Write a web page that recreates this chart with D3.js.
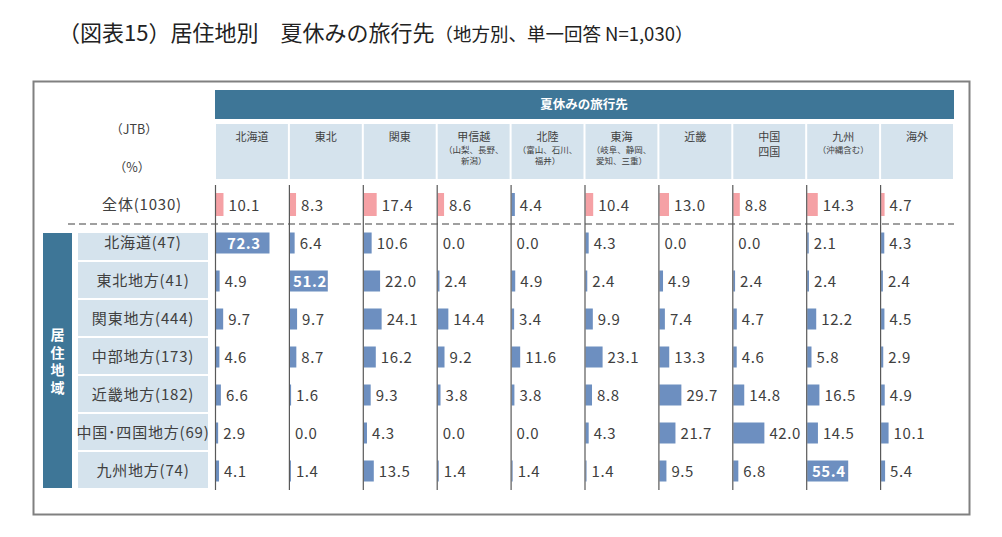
<!DOCTYPE html>
<html>
<head>
<meta charset="utf-8">
<script src="https://cdn.jsdelivr.net/npm/d3@7"></script>
<style>
  body { margin: 0; background: #fff; }
  svg { display: block; font-family: "Noto Sans CJK JP", sans-serif; }
</style>
</head>
<body>
<div id="chart"></div>
<script>
// destination columns (header lines + small notes)
const destinations = [["北海道"], ["東北"], ["関東"], ["甲信越"], ["北陸"], ["東海"], ["近畿"], ["中国", "四国"], ["九州"], ["海外"]];
const destNotes = [[], [], [], ["（山梨、長野、", "新潟）"], ["（富山、石川、", "福井）"], ["（岐阜、静岡、", "愛知、三重）"], [], [], ["（沖縄含む）"], []];

const totalLabel = "全体(1030)";
const totalValues = [10.1, 8.3, 17.4, 8.6, 4.4, 10.4, 13.0, 8.8, 14.3, 4.7];
const totalGroup = ["pink", "pink", "pink", "pink", "blue", "pink", "pink", "pink", "pink", "pink"];

const regions = ["北海道", "東北地方", "関東地方", "中部地方", "近畿地方", "中国･四国地方", "九州地方"];
const regionN = [47, 41, 444, 173, 182, 69, 74];
const regionValues = [
    [72.3, 6.4, 10.6, 0.0, 0.0, 4.3, 0.0, 0.0, 2.1, 4.3],
    [4.9, 51.2, 22.0, 2.4, 4.9, 2.4, 4.9, 2.4, 2.4, 2.4],
    [9.7, 9.7, 24.1, 14.4, 3.4, 9.9, 7.4, 4.7, 12.2, 4.5],
    [4.6, 8.7, 16.2, 9.2, 11.6, 23.1, 13.3, 4.6, 5.8, 2.9],
    [6.6, 1.6, 9.3, 3.8, 3.8, 8.8, 29.7, 14.8, 16.5, 4.9],
    [2.9, 0.0, 4.3, 0.0, 0.0, 4.3, 21.7, 42.0, 14.5, 10.1],
    [4.1, 1.4, 13.5, 1.4, 1.4, 1.4, 9.5, 6.8, 55.4, 5.4]
];

const W = 1002, H = 537;
const dark = "#3e7697", light = "#d5e3ed", textCol = "#404040";
const barColor = d3.scaleOrdinal().domain(["blue", "pink"]).range(["#6d8fc0", "#f5a1a5"]);

const svg = d3.select("#chart").append("svg").attr("width", W).attr("height", H);

// title
const title = svg.append("text").attr("x", 58).attr("y", 41).attr("fill", "#222");
title.append("tspan").attr("font-size", 22).text("（図表15）居住地別　夏休みの旅行先");
title.append("tspan").attr("font-size", 18.5).text("（地方別、単一回答 N=1,030）");

// frame
svg.append("rect")
    .attr("x", 33.5).attr("y", 81.5).attr("width", 936).attr("height", 433)
    .attr("fill", "none").attr("stroke", "#808080").attr("stroke-width", 2);

const x = d3.scaleBand().domain(d3.range(destinations.length)).range([215, 954]);
const bar = d3.scaleLinear().domain([0, 100]).range([0, 74]);
const y = d3.scaleBand().domain(d3.range(regions.length)).range([223, 489]);

// header band
svg.append("rect").attr("x", 215).attr("y", 90).attr("width", 739).attr("height", 29).attr("fill", dark);
svg.append("text").attr("x", 584).attr("y", 105).attr("dy", "0.35em")
    .attr("text-anchor", "middle").attr("fill", "#fff").attr("font-size", 12.5).attr("font-weight", "bold")
    .text("夏休みの旅行先");

const head = svg.append("g").selectAll("g").data(destinations).join("g")
    .attr("transform", (d, i) => `translate(${x(i)},0)`);
head.append("rect").attr("x", 1).attr("y", 124).attr("width", x.bandwidth() - 2).attr("height", 55).attr("fill", light);
head.each(function (d, i) {
    const g = d3.select(this);
    d.forEach((line, j) => g.append("text")
        .attr("x", x.bandwidth() / 2).attr("y", 137 + j * 15).attr("dy", "0.35em")
        .attr("text-anchor", "middle").attr("font-size", 11).attr("fill", textCol).text(line));
    destNotes[i].forEach((line, j) => g.append("text")
        .attr("x", x.bandwidth() / 2).attr("y", 150 + j * 11).attr("dy", "0.35em")
        .attr("text-anchor", "middle").attr("font-size", 8.5).attr("fill", textCol).text(line));
});

// top-left labels
svg.append("text").attr("x", 134).attr("y", 130).attr("dy", "0.35em").attr("text-anchor", "middle")
    .attr("font-size", 12.5).attr("fill", textCol).text("（JTB）");
svg.append("text").attr("x", 132).attr("y", 168).attr("dy", "0.35em").attr("text-anchor", "middle")
    .attr("font-size", 12.5).attr("fill", textCol).text("（%）");

// row labels
svg.append("text").attr("x", 142).attr("y", 205).attr("dy", "0.35em").attr("text-anchor", "middle")
    .attr("font-size", 15).attr("letter-spacing", 0.8).attr("fill", textCol).text(totalLabel);

svg.append("rect").attr("x", 43).attr("y", 233).attr("width", 29).attr("height", 255).attr("fill", dark);
svg.append("text")
    .attr("x", 57.5).attr("y", 363).attr("writing-mode", "vertical-rl").attr("text-anchor", "middle")
    .attr("font-size", 14).attr("letter-spacing", 3.5).attr("font-weight", "bold").attr("fill", "#fff")
    .text("居住地域");

const rowLab = svg.append("g").selectAll("g").data(regions).join("g");
rowLab.append("rect")
    .attr("x", 78).attr("width", 130)
    .attr("y", (d, i) => Math.max(y(i) + 1, 233))
    .attr("height", (d, i) => y(i) + y.bandwidth() - 1 - Math.max(y(i) + 1, 233))
    .attr("fill", light);
rowLab.append("text")
    .attr("x", 143).attr("y", (d, i) => y(i) + y.bandwidth() / 2 + 1).attr("dy", "0.35em")
    .attr("text-anchor", "middle").attr("font-size", 15).attr("letter-spacing", 0.8).attr("fill", textCol)
    .text((d, i) => `${d}(${regionN[i]})`);

// dashed separator
svg.append("line").attr("x1", 68).attr("x2", 954).attr("y1", 224).attr("y2", 224)
    .attr("stroke", "#808080").attr("stroke-width", 1.6).attr("stroke-dasharray", "7,4");

// cells: total row + region rows
const cells = [];
totalValues.forEach((v, c) => cells.push({ v, c, cy: 204.5, h: 23, color: barColor(totalGroup[c]) }));
regionValues.forEach((row, r) => row.forEach((v, c) =>
    cells.push({ v, c, cy: y(r) + y.bandwidth() / 2 + 1, h: 21, color: barColor("blue") })));

const cg = svg.append("g");
cg.selectAll("rect").data(cells).join("rect")
    .attr("x", d => x(d.c) + 1)
    .attr("y", d => d.cy - d.h / 2)
    .attr("width", d => bar(d.v))
    .attr("height", d => d.h)
    .attr("fill", d => d.color);

const labels = cg.selectAll("text").data(cells).join("text")
    .attr("y", d => d.cy + 1).attr("dy", "0.35em")
    .attr("font-size", 15).attr("letter-spacing", 0.6)
    .attr("fill", textCol)
    .text(d => d.v.toFixed(1));
labels.each(function (d) {
    const t = d3.select(this);
    const len = this.getComputedTextLength();
    const start = x(d.c) + 1, end = start + bar(d.v);
    const right = x(d.c) + x.bandwidth() - 2;
    if (end + 5 + len > right && bar(d.v) > len) {
        // no room after the bar: white label inside
        t.attr("x", start + bar(d.v) / 2 - len / 2).attr("fill", "#fff").attr("font-weight", "bold");
    } else {
        t.attr("x", Math.min(end + 5, right - len));
    }
});

// column lines
svg.append("g").selectAll("line").data(destinations).join("line")
    .attr("x1", (d, i) => x(i) + 0.5).attr("x2", (d, i) => x(i) + 0.5)
    .attr("y1", 185).attr("y2", 490)
    .attr("stroke", "#595959").attr("stroke-width", 1.2);
</script>
</body>
</html>
